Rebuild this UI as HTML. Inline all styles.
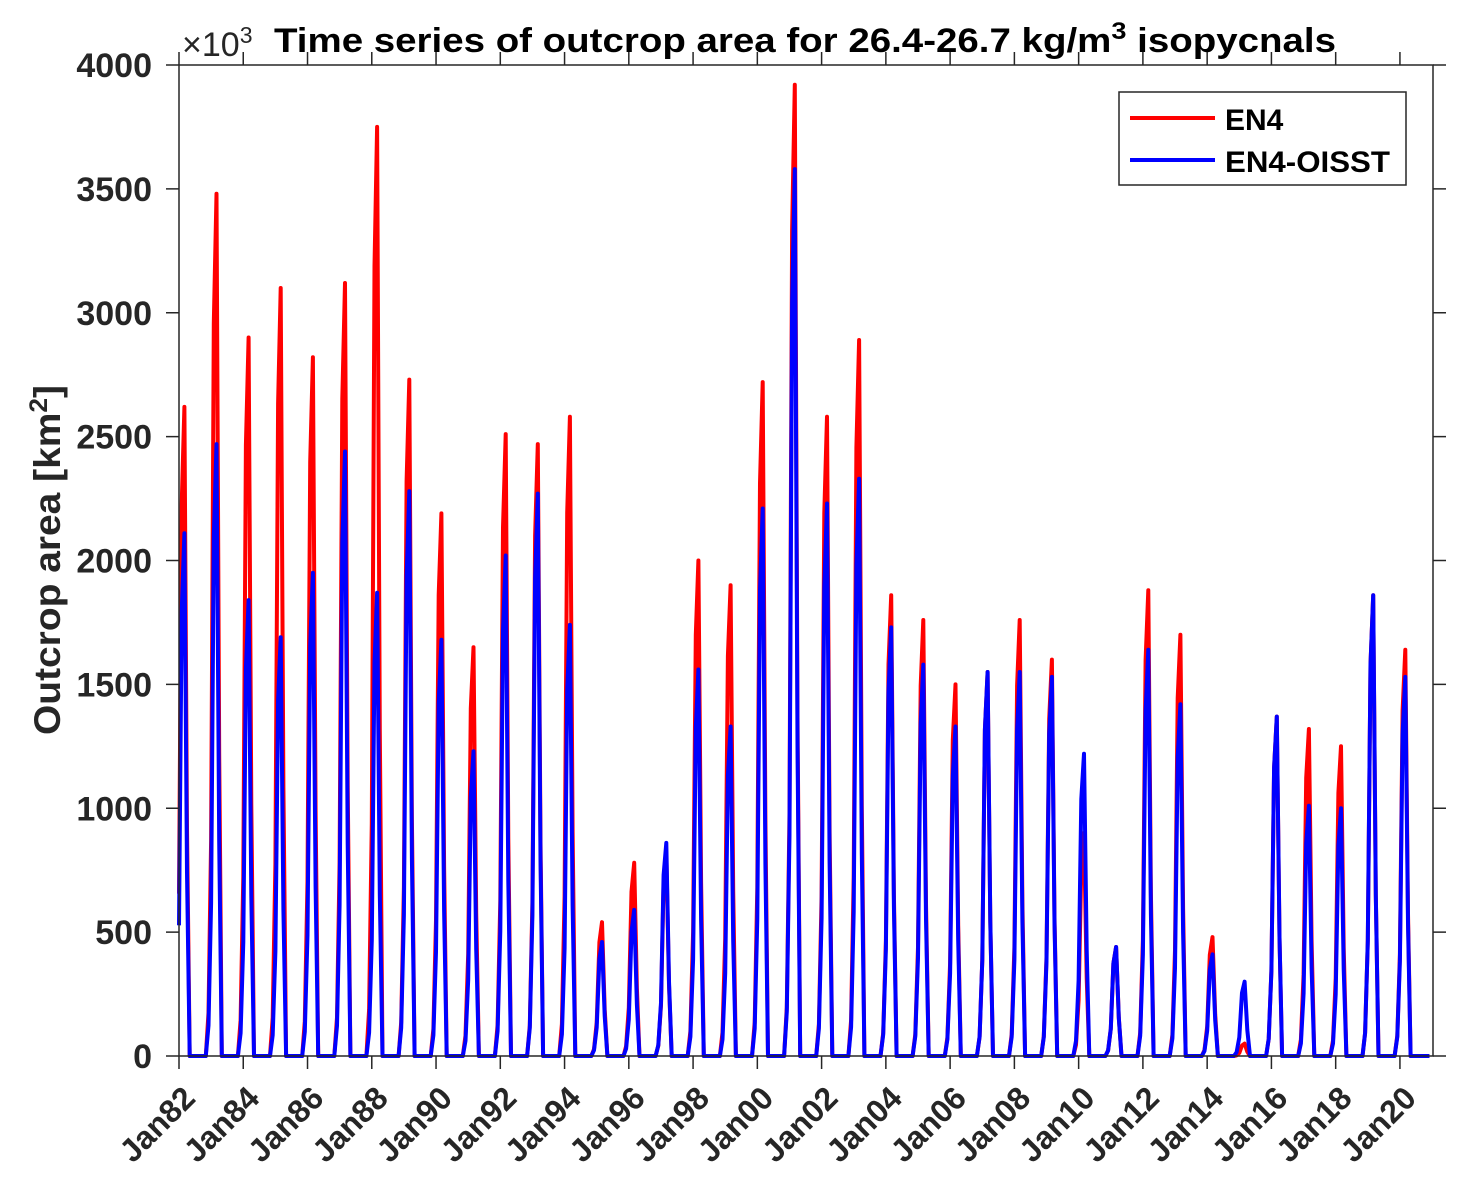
<!DOCTYPE html>
<html><head><meta charset="utf-8"><style>
body{margin:0;background:#fff;}
svg text{font-family:"Liberation Sans",Arial,sans-serif;font-weight:bold;}
</style></head><body>
<svg id="chart" width="1466" height="1185" xmlns="http://www.w3.org/2000/svg">
<g id="plot"></g>
<g id="axes"></g>
<text x="274" y="52" font-size="34" fill="#000" textLength="1062" lengthAdjust="spacingAndGlyphs">Time series of outcrop area for 26.4-26.7 kg/m<tspan font-size="24" dy="-13">3</tspan><tspan dy="13"> isopycnals</tspan></text>
<text x="182" y="56" font-size="34" fill="#262626" style="font-weight:normal">×10<tspan font-size="23" dy="-13">3</tspan></text>
<text transform="translate(60,560) rotate(-90)" text-anchor="middle" font-size="37" fill="#262626" textLength="350" lengthAdjust="spacingAndGlyphs">Outcrop area [km<tspan font-size="25" dy="-13">2</tspan><tspan dy="13">]</tspan></text>
<g>
<rect x="1119" y="92" width="287" height="93" fill="#fff" stroke="#262626" stroke-width="1.5"/>
<line x1="1130" y1="118" x2="1215" y2="118" stroke="#ff0000" stroke-width="4"/>
<text x="1225" y="130" font-size="30" fill="#000">EN4</text>
<line x1="1130" y1="160" x2="1215" y2="160" stroke="#0000ff" stroke-width="4"/>
<text x="1225" y="172" font-size="30" fill="#000" textLength="165" lengthAdjust="spacingAndGlyphs">EN4-OISST</text>
</g>
</svg>
<script>
const years = [1982,1983,1984,1985,1986,1987,1988,1989,1990,1991,1992,1993,1994,1995,1996,1997,1998,1999,2000,2001,2002,2003,2004,2005,2006,2007,2008,2009,2010,2011,2012,2013,2014,2015,2016,2017,2018,2019,2020];
const en4Peaks = [2620,3480,2900,3100,2820,3120,3750,2730,2190,1650,2510,2470,2580,540,780,820,2000,1900,2720,3920,2580,2890,1860,1760,1500,1550,1760,1600,900,440,1880,1700,480,50,1370,1320,1250,1860,1640];
const oisstPeaks = [2110,2470,1840,1690,1950,2440,1870,2280,1680,1230,2020,2270,1740,460,590,860,1560,1330,2210,3580,2230,2330,1730,1580,1330,1550,1550,1530,1220,440,1640,1420,410,300,1370,1010,1000,1860,1530];
// seasonal profile: months Nov(prev), Dec(prev), Jan, Feb, Mar, Apr, May
const seasonMonths = [-2,-1,0,1,2,3,4];
const seasonShape = [0,0.05,0.25,0.85,1,0.35,0];
const yTicks = [0,500,1000,1500,2000,2500,3000,3500,4000];
const xTickYears = [1982,1984,1986,1988,1990,1992,1994,1996,1998,2000,2002,2004,2006,2008,2010,2012,2014,2016,2018,2020];

const X0=179,X1=1433,Y0=1056,Y1=65;
const xs = t => X0 + (t-1982)*32.13;
const ys = v => Y0 - v*(Y0-Y1)/4000;
const NS="http://www.w3.org/2000/svg";
function mk(tag,attrs,parent){const e=document.createElementNS(NS,tag);for(const k in attrs)e.setAttribute(k,attrs[k]);parent.appendChild(e);return e;}

function monthly(peaks){
  const n=(2021-1982)*12; const arr=new Array(n).fill(0);
  years.forEach((y,i)=>{
    seasonMonths.forEach((m,j)=>{
      const idx=(y-1982)*12+m;
      if(idx>=0&&idx<n) arr[idx]=Math.max(arr[idx],peaks[i]*seasonShape[j]);
    });
  });
  return arr;
}
const plot=document.getElementById('plot');
function series(peaks,color,name){
  const arr=monthly(peaks);
  const pts=arr.map((v,i)=>xs(1982+i/12).toFixed(1)+','+ys(v).toFixed(1)).join(' ');
  const p=mk('polyline',{points:pts,fill:'none',stroke:color,'stroke-width':4,'stroke-linejoin':'round'},plot);
  
  
}
series(en4Peaks,'#ff0000','series-en4');
series(oisstPeaks,'#0000ff','series-en4-oisst');

const axes=document.getElementById('axes');
const box=mk('rect',{x:X0,y:Y1,width:X1-X0,height:Y0-Y1,fill:'none',stroke:'#262626','stroke-width':1.5},axes);


yTicks.forEach(v=>{
  const y=ys(v);
  mk('line',{x1:X0-13,y1:y,x2:X0,y2:y,stroke:'#262626','stroke-width':1.5},axes);
  mk('line',{x1:X1,y1:y,x2:X1+13,y2:y,stroke:'#262626','stroke-width':1.5},axes);
  const t=mk('text',{x:152,y:y+12,'text-anchor':'end','font-size':34,fill:'#262626'},axes);
  t.textContent=v;
  
  
});
xTickYears.forEach(yr=>{
  const x=xs(yr);
  mk('line',{x1:x,y1:Y0,x2:x,y2:Y0+13,stroke:'#262626','stroke-width':1.5},axes);
  mk('line',{x1:x,y1:Y1-13,x2:x,y2:Y1,stroke:'#262626','stroke-width':1.5},axes);
  const t=mk('text',{transform:`translate(${x+18},${Y0+44}) rotate(-45)`,'text-anchor':'end','font-size':32,fill:'#262626'},axes);
  t.textContent='Jan'+String(yr).slice(2);
  
  
});
</script>
</body></html>
